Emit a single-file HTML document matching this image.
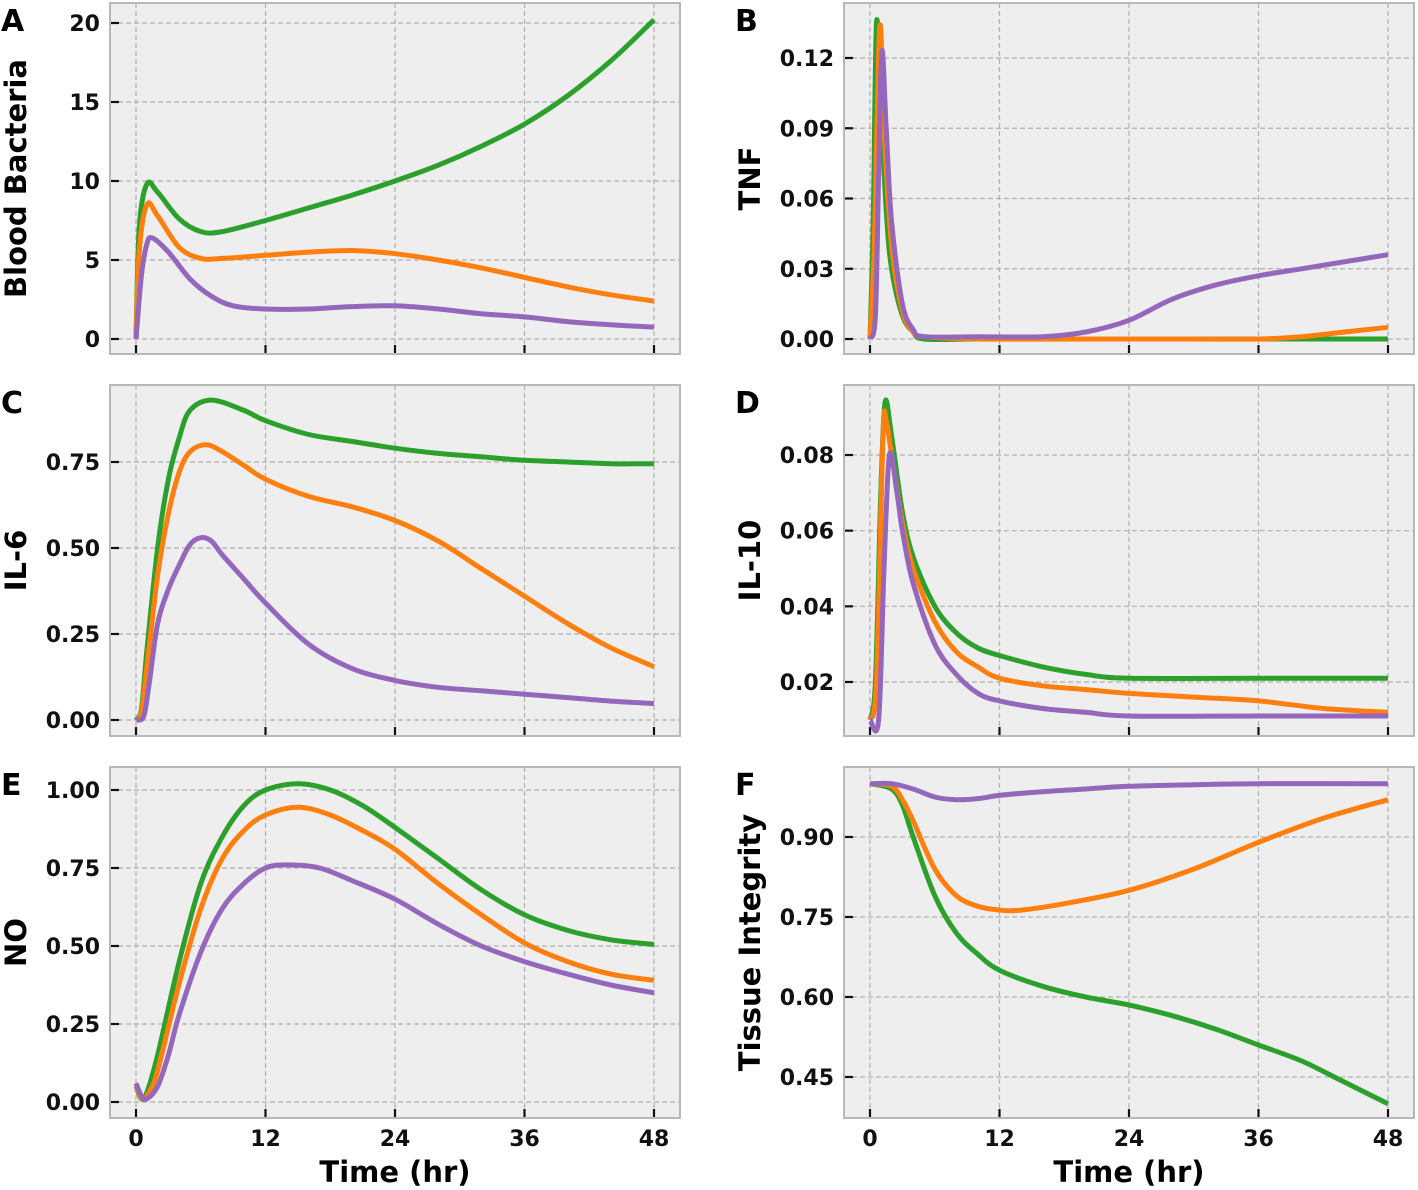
<!DOCTYPE html>
<html><head><meta charset="utf-8"><style>
body{margin:0;background:#fff;}
svg{display:block;font-family:"DejaVu Sans","Liberation Sans",sans-serif;font-weight:bold;}
</style></head><body>
<svg id="c" width="1418" height="1190" xmlns="http://www.w3.org/2000/svg"></svg>
<script>
// ---- data ----
const xTicks=[0,12,24,36,48];
const A_t_g=[0,0.3,1,2,4,6,8,12,16,20,24,28,32,36,40,44,48];
const A_g=[0,7,9.8,9.3,7.6,6.8,6.8,7.5,8.3,9.1,10,11,12.2,13.6,15.4,17.6,20.2];
const A_o=[0,5.5,8.5,7.8,5.8,5.1,5.1,5.3,5.5,5.6,5.4,5.0,4.5,3.9,3.3,2.8,2.4];
const A_t_p=[0,0.5,1,1.5,3,5,7,9,12,16,20,24,28,32,36,40,44,48];
const A_p=[0,4,6,6.4,5.5,3.8,2.7,2.1,1.9,1.9,2.05,2.1,1.9,1.6,1.4,1.1,0.9,0.75];
const A_ticks=[0,5,10,15,20];
const B_t_g=[0,0.3,0.6,1,1.5,2,3,4,5,10,20,30,40,48];
const B_g=[0,0.05,0.135,0.10,0.055,0.03,0.01,0.003,0,0,0,0,0,0];
const B_t_o=[0,0.4,0.9,1.3,2,3,4,5,10,20,30,36,40,44,48];
const B_o=[0,0.04,0.133,0.09,0.04,0.012,0.003,0.001,0,0,0,0,0.001,0.003,0.005];
const B_t_p=[0,0.5,0.8,1.1,1.5,2,3,4,5,10,16,20,24,28,32,36,40,44,48];
const B_p=[0,0.01,0.07,0.123,0.09,0.05,0.015,0.004,0.001,0.001,0.001,0.003,0.008,0.017,0.023,0.027,0.030,0.033,0.036];
const B_ticks=[0,0.03,0.06,0.09,0.12];
const C_t_g=[0,0.5,1,2,3,4,5,7,10,12,16,20,24,28,32,36,40,44,48];
const C_g=[0,0.03,0.2,0.5,0.7,0.82,0.9,0.93,0.9,0.87,0.83,0.81,0.79,0.775,0.765,0.755,0.75,0.745,0.745];
const C_t_o=[0,0.5,1,2,3,4,5,6.5,8,10,12,16,20,24,28,32,36,40,44,48];
const C_o=[0,0.02,0.15,0.42,0.6,0.72,0.78,0.80,0.78,0.74,0.7,0.65,0.62,0.58,0.52,0.44,0.36,0.28,0.21,0.155];
const C_t_p=[0,0.7,1.2,2,3,4,5,6,7,8,10,12,16,20,24,28,32,36,40,44,48];
const C_p=[0,0.01,0.1,0.28,0.38,0.45,0.51,0.53,0.52,0.48,0.41,0.34,0.22,0.15,0.115,0.095,0.085,0.075,0.065,0.055,0.048];
const C_ticks=[0,0.25,0.5,0.75];
const D_t_g=[0,0.5,1,1.4,2,3,4,6,8,10,12,16,20,24,36,48];
const D_g=[0.01,0.02,0.07,0.094,0.085,0.065,0.053,0.04,0.033,0.029,0.027,0.024,0.022,0.021,0.021,0.021];
const D_t_o=[0,0.6,1.2,1.5,2,3,4,6,8,10,12,16,20,24,30,36,42,48];
const D_o=[0.01,0.02,0.085,0.089,0.08,0.062,0.05,0.036,0.028,0.024,0.021,0.019,0.018,0.017,0.016,0.015,0.013,0.012];
const D_t_p=[0,0.8,1.3,1.8,2.5,3,4,6,8,10,12,16,20,24,36,48];
const D_p=[0.01,0.01,0.05,0.08,0.07,0.06,0.046,0.03,0.022,0.017,0.015,0.013,0.012,0.011,0.011,0.011];
const D_ticks=[0.02,0.04,0.06,0.08];
const E_t_g=[0,0.5,1,2,4,6,8,10,12,15,18,21,24,28,32,36,40,44,48];
const E_g=[0.05,0.01,0.03,0.15,0.45,0.7,0.85,0.95,1.0,1.02,1.0,0.95,0.88,0.78,0.68,0.6,0.55,0.52,0.505];
const E_t_o=[0,0.6,1.2,2,4,6,8,10,12,15,18,21,24,28,32,36,40,44,48];
const E_o=[0.05,0.01,0.03,0.1,0.38,0.62,0.78,0.87,0.92,0.945,0.92,0.87,0.81,0.7,0.6,0.51,0.45,0.41,0.39];
const E_t_p=[0,0.5,1,2,3,4,6,8,10,12,14,17,20,24,28,32,36,40,44,48];
const E_p=[0.06,0.02,0.01,0.05,0.15,0.28,0.48,0.62,0.7,0.75,0.76,0.75,0.71,0.65,0.57,0.5,0.45,0.41,0.375,0.35];
const E_ticks=[0,0.25,0.5,0.75,1.0];
const F_t_g=[0,2,3,4,6,8,10,12,16,20,24,28,32,36,40,44,48];
const F_g=[1.0,0.99,0.96,0.9,0.79,0.72,0.68,0.65,0.62,0.6,0.585,0.565,0.54,0.51,0.48,0.44,0.40];
const F_t_o=[0,2,3,4,6,8,10,12,14,18,24,30,36,42,48];
const F_o=[1.0,0.995,0.97,0.93,0.84,0.79,0.77,0.763,0.763,0.775,0.8,0.84,0.89,0.935,0.97];
const F_t_p=[0,2,4,6,8,10,12,16,20,24,30,36,48];
const F_p=[1.0,1.0,0.99,0.975,0.97,0.972,0.978,0.985,0.99,0.995,0.998,1.0,1.0];
const F_ticks=[0.45,0.6,0.75,0.9];

const NS="http://www.w3.org/2000/svg";
const svg=document.getElementById('c');
function mk(tag,attrs,parent){const e=document.createElementNS(NS,tag);for(const k in attrs)e.setAttribute(k,attrs[k]);(parent||svg).appendChild(e);return e;}
function path(pts){let d='M'+pts[0][0].toFixed(1)+','+pts[0][1].toFixed(1);
 for(let i=0;i<pts.length-1;i++){const p0=pts[Math.max(0,i-1)],p1=pts[i],p2=pts[i+1],p3=pts[Math.min(pts.length-1,i+2)];
 const c1=[p1[0]+(p2[0]-p0[0])/6,p1[1]+(p2[1]-p0[1])/6],c2=[p2[0]-(p3[0]-p1[0])/6,p2[1]-(p3[1]-p1[1])/6];
 d+='C'+c1.map(v=>v.toFixed(1))+' '+c2.map(v=>v.toFixed(1))+' '+p2[0].toFixed(1)+','+p2[1].toFixed(1);}
 return d;}

const panels=[
 {id:'a',letter:'A',label:'Blood Bacteria',L:110,T:3,cal:[0,339,20,23],ticks:A_ticks,fmt:v=>String(v),series:[[A_t_g,A_g],[A_t_g,A_o],[A_t_p,A_p]]},
 {id:'b',letter:'B',label:'TNF',L:844,T:3,cal:[0,339,0.12,58],ticks:B_ticks,fmt:v=>v.toFixed(2),series:[[B_t_g,B_g],[B_t_o,B_o],[B_t_p,B_p]]},
 {id:'c',letter:'C',label:'IL-6',L:110,T:385,cal:[0,720,0.75,462],ticks:C_ticks,fmt:v=>v.toFixed(2),series:[[C_t_g,C_g],[C_t_o,C_o],[C_t_p,C_p]]},
 {id:'d',letter:'D',label:'IL-10',L:844,T:385,cal:[0.02,682,0.08,455],ticks:D_ticks,fmt:v=>v.toFixed(2),series:[[D_t_g,D_g],[D_t_o,D_o],[D_t_p,D_p]]},
 {id:'e',letter:'E',label:'NO',L:110,T:767,cal:[0,1102,1,790],ticks:E_ticks,fmt:v=>v.toFixed(2),series:[[E_t_g,E_g],[E_t_o,E_o],[E_t_p,E_p]],xl:true},
 {id:'f',letter:'F',label:'Tissue Integrity',L:844,T:767,cal:[0.45,1077,0.9,837],ticks:F_ticks,fmt:v=>v.toFixed(2),series:[[F_t_g,F_g],[F_t_o,F_o],[F_t_p,F_p]],xl:true}
];
const colors=['#2ca02c','#ff7f0e','#9467bd'];
const names=['green','orange','purple'];
const W=570,H=351;
panels.forEach(p=>{
 const g=mk('g',{});
 
 
 const xs=t=>p.L+26+t*(518/48);
 const ys=v=>p.cal[1]+(v-p.cal[0])*(p.cal[3]-p.cal[1])/(p.cal[2]-p.cal[0]);
 const bg=mk('rect',{x:p.L,y:p.T,width:W,height:H,fill:'#eeeeee'},g);
 
 
 xTicks.forEach(t=>{mk('line',{x1:xs(t),x2:xs(t),y1:p.T,y2:p.T+H,stroke:'#b0b0b0','stroke-width':1.2,'stroke-dasharray':'5,3'},g);
  mk('line',{x1:xs(t),x2:xs(t),y1:p.T+H,y2:p.T+H-9,stroke:'#111','stroke-width':2.2},g);
  if(p.xl){const tx=mk('text',{x:xs(t),y:1146,'font-size':22,'text-anchor':'middle',fill:'#111'},g);tx.textContent=t;
   }});
 p.ticks.forEach(v=>{const y=ys(v);
  mk('line',{x1:p.L,x2:p.L+W,y1:y,y2:y,stroke:'#b0b0b0','stroke-width':1.2,'stroke-dasharray':'5,3'},g);
  mk('line',{x1:p.L,x2:p.L+9,y1:y,y2:y,stroke:'#111','stroke-width':2.2},g);
  const tx=mk('text',{x:p.L-10,y:y+8,'font-size':22,'text-anchor':'end',fill:'#111'},g);tx.textContent=p.fmt(v);
  });
 p.series.forEach((s,i)=>{const pts=s[0].map((t,j)=>[xs(t),ys(s[1][j])]);
  const pe=mk('path',{d:path(pts),fill:'none',stroke:colors[i],'stroke-width':5,'stroke-linejoin':'round'},g);
  
  });
 mk('rect',{x:p.L,y:p.T,width:W,height:H,fill:'none',stroke:'#b8b8b8','stroke-width':2},g);
 const lx=p.L<500?14:748;
 const lt=mk('text',{x:lx-13,y:p.T+28,'font-size':30,fill:'#000'},g);lt.textContent=p.letter;
 
 const cy=p.T+H/2;
 const yl=mk('text',{x:lx+12,y:cy,'font-size':29,'text-anchor':'middle',transform:`rotate(-90 ${lx+12} ${cy})`,fill:'#000'},g);yl.textContent=p.label;
 
 if(p.xl){const xt=mk('text',{x:p.L+W/2,y:1182,'font-size':29,'text-anchor':'middle',fill:'#000'},g);xt.textContent='Time (hr)';
  }
});
</script>
</body></html>
